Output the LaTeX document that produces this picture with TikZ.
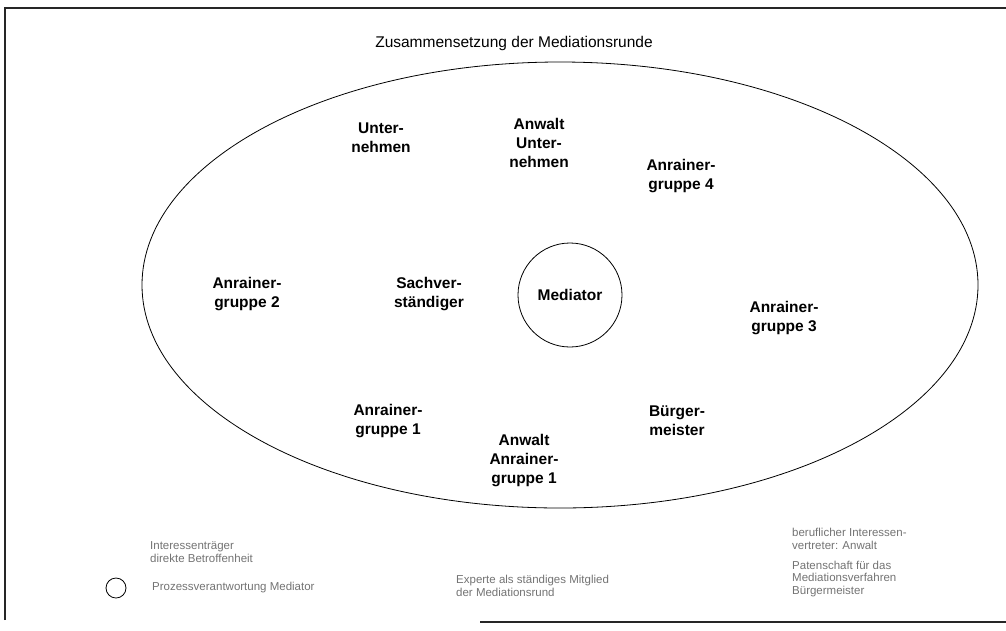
\documentclass[tikz,border=0pt]{standalone}
\usepackage{fontspec}
\setmainfont{Liberation Sans}
\usetikzlibrary{shapes.geometric}
\begin{document}
\begin{tikzpicture}[
    x=1pt, y=-1pt,
    lab/.style={font=\fontsize{15.5}{19}\selectfont\bfseries, align=center, inner sep=0pt},
    leg/.style={font=\fontsize{11.5}{12.5}\selectfont, text=black!55, align=left, anchor=west, inner sep=0pt},
    frame/.style={line width=1.2pt, black!85}
  ]
  \useasboundingbox (0,0) rectangle (1006,630);
  % Rahmen
  \coordinate (tl) at (5,8);
  \coordinate (tr) at (1006,8);
  \coordinate (bl) at (5,620);
  \coordinate (bmid) at (480,622);
  \coordinate (br) at (1006,622);
  \draw[frame] (bl) -- (tl) -- (tr);
  \draw[frame] (bmid) -- (br);
  \node[font=\fontsize{15.5}{16}\selectfont, inner sep=0pt] (title) at (514,43) {Zusammensetzung der Mediationsrunde};
  % Runde
  \node[draw, thick, ellipse, minimum width=836, minimum height=446, inner sep=0pt] (runde) at (560,285) {};
  \node[draw, thick, circle, minimum size=104, inner sep=0pt, lab] (med) at (570,295) {Mediator};
  \node[lab] (unt) at (381,138) {Unter-\\nehmen};
  \node[lab] (anwu) at (539,143) {Anwalt\\Unter-\\nehmen};
  \node[lab] (ag4) at (681,176) {Anrainer-\\gruppe 4};
  \node[lab] (ag2) at (247,294) {Anrainer-\\gruppe 2};
  \node[lab] (sv) at (429,294) {Sachver-\\ständiger};
  \node[lab] (ag3) at (784,318) {Anrainer-\\gruppe 3};
  \node[lab] (ag1) at (388,421) {Anrainer-\\gruppe 1};
  \node[lab] (bgm) at (677,421) {Bürger-\\meister};
  \node[lab] (anwa) at (524,461) {Anwalt\\Anrainer-\\gruppe 1};
  % Legende
  \node[leg] (l1) at (150,552) {Interessenträger\\direkte Betroffenheit};
  \node[draw, thick, circle, minimum size=20, inner sep=0pt] (lk) at (116,588) {};
  \node[leg] (l2) at (152,588) {Prozessverantwortung Mediator};
  \node[leg] (l3) at (456,586) {Experte als ständiges Mitglied\\der Mediationsrund};
  \node[leg] (l4) at (792,539) {beruflicher Interessen-\\vertreter: Anwalt};
  \node[leg] (l5) at (792,579) {Patenschaft für das\\Mediationsverfahren\\Bürgermeister};
\end{tikzpicture}
\end{document}
